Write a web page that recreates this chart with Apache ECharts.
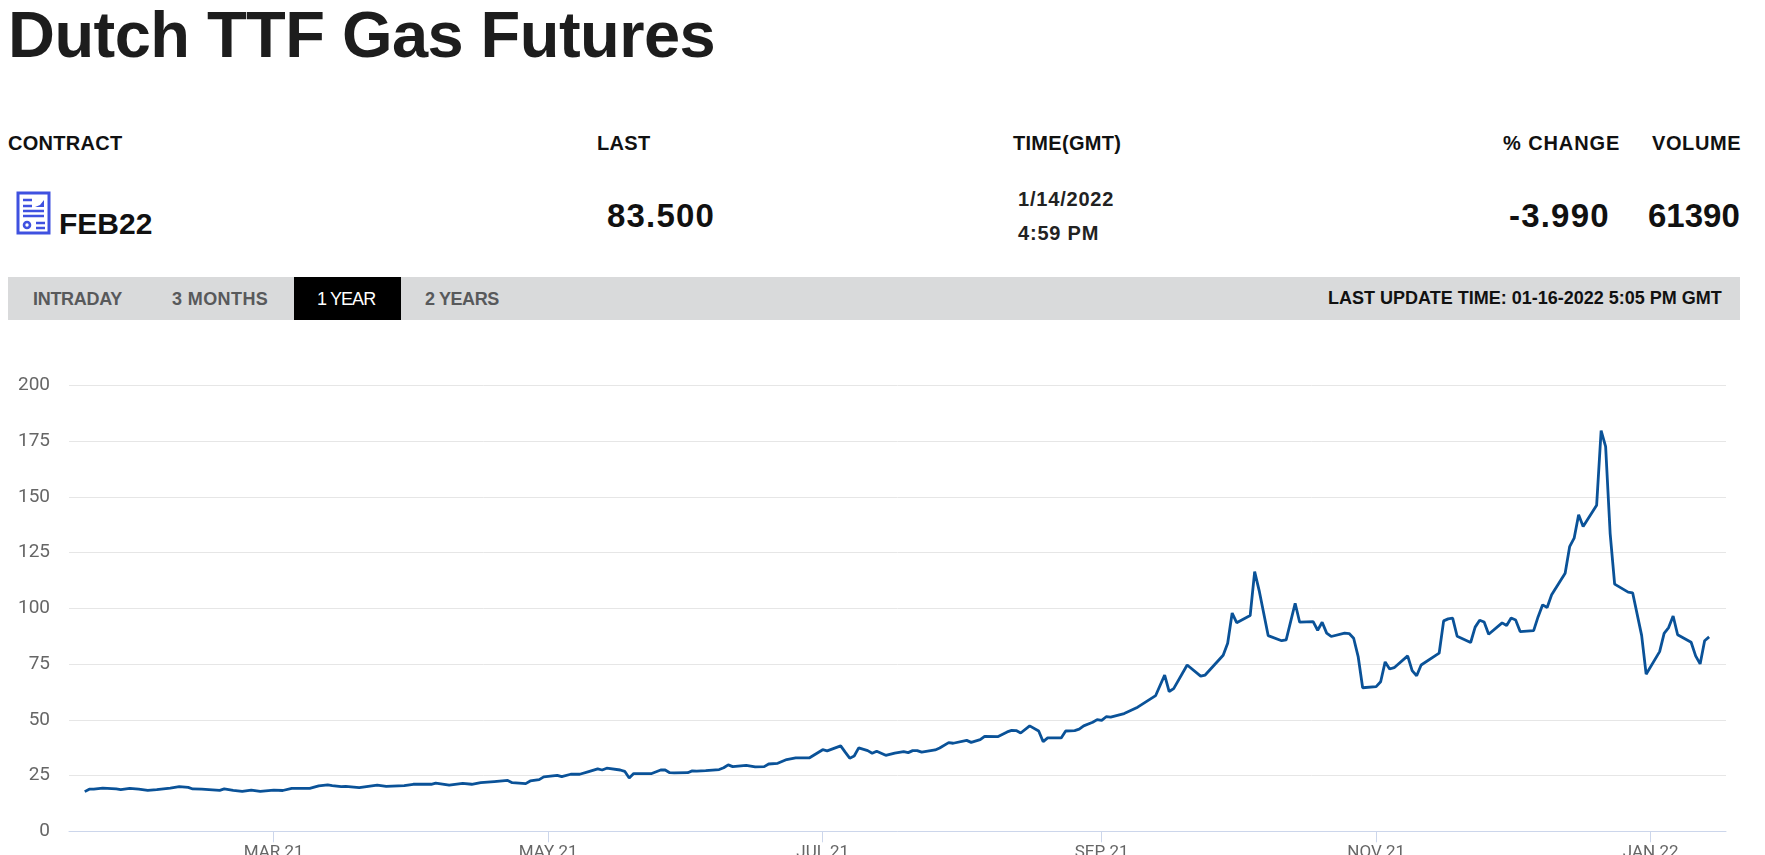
<!DOCTYPE html>
<html>
<head>
<meta charset="utf-8">
<title>Dutch TTF Gas Futures</title>
<script src="https://cdn.jsdelivr.net/npm/echarts@6/dist/echarts.min.js"></script>
<style>
    html, body { margin: 0; padding: 0; width: 1765px; height: 855px; overflow: hidden; background: #fff; }
    body { position: relative; font-family: "Liberation Sans", Arial, sans-serif; font-weight: 700; color: #111; }
    .t { position: absolute; line-height: 1; white-space: nowrap; }
    h1 { position: absolute; left: 8px; top: 2px; margin: 0; font-size: 65px; line-height: 1; letter-spacing: -0.55px; color: #1d1d1d; }
    .head { top: 133px; font-size: 20px; letter-spacing: 0.3px; }
    .big { top: 199px; font-size: 33px; letter-spacing: 1.2px; }
    .when { font-size: 20px; letter-spacing: 0.8px; color: #222; }
    #bar { position: absolute; left: 8px; top: 277px; width: 1732px; height: 43px; background: #d9dadb; }
    #active { position: absolute; left: 294px; top: 277px; width: 107px; height: 43px; background: #000; }
    .tab { top: 290px; font-size: 18px; color: #58595b; }
    #chart { position: absolute; left: 0; top: 300px; width: 1765px; height: 600px; }
</style>
</head>
<body>
<div id="chart"></div>

<h1>Dutch TTF Gas Futures</h1>
<span class="t head" style="left:8px">CONTRACT</span>
<span class="t head" style="left:597px">LAST</span>
<span class="t head" style="left:1013px">TIME(GMT)</span>
<span class="t head" style="left:1503px;letter-spacing:0.9px">% CHANGE</span>
<span class="t head" style="left:1652px;letter-spacing:0.6px">VOLUME</span>

<svg style="position:absolute;left:16px;top:191px" width="36" height="44" viewBox="0 0 36 44">
    <rect x="2" y="2" width="31" height="40" fill="#fff" stroke="#3f51e0" stroke-width="3"/>
    <path d="M7 9h9M7 15h9M7 20h21M7 25h21M20 32h9M20 37h9" stroke="#3f51e0" stroke-width="2.4"/>
    <path d="M19 16l5-2 4-5v7z" fill="#3f51e0"/>
    <circle cx="11" cy="34" r="3" fill="none" stroke="#3f51e0" stroke-width="2.6"/>
</svg>
<span class="t" style="left:59px;top:209px;font-size:30px">FEB22</span>
<span class="t big" style="left:607px">83.500</span>
<span class="t when" style="left:1018px;top:189px">1/14/2022</span>
<span class="t when" style="left:1018px;top:223px">4:59 PM</span>
<span class="t big" style="left:1509px">-3.990</span>
<span class="t big" style="left:1648px;letter-spacing:0">61390</span>

<div id="bar"></div>
<div id="active"></div>
<span class="t tab" style="left:33px;letter-spacing:-0.3px">INTRADAY</span>
<span class="t tab" style="left:172px;letter-spacing:0.4px">3 MONTHS</span>
<span class="t tab" style="left:317px;color:#fff;font-weight:400;letter-spacing:-0.9px">1 YEAR</span>
<span class="t tab" style="left:425px;letter-spacing:-0.4px">2 YEARS</span>
<span class="t" style="left:1328px;top:289px;font-size:18px">LAST UPDATE TIME: 01-16-2022 5:05 PM GMT</span>

<script>
// Daily settlement (only the dates where the line visibly bends)
const dates = [
    '2021-01-18', '2021-01-19', '2021-01-20', '2021-01-22', '2021-01-25', '2021-01-26', '2021-01-28', '2021-01-30',
    '2021-02-01', '2021-02-03', '2021-02-06', '2021-02-08', '2021-02-10', '2021-02-11', '2021-02-13', '2021-02-17', '2021-02-18', '2021-02-20', '2021-02-22', '2021-02-24', '2021-02-26',
    '2021-03-01', '2021-03-03', '2021-03-05', '2021-03-09', '2021-03-11', '2021-03-13', '2021-03-14', '2021-03-16', '2021-03-17', '2021-03-20', '2021-03-22', '2021-03-24', '2021-03-26', '2021-03-30',
    '2021-04-01', '2021-04-05', '2021-04-06', '2021-04-09', '2021-04-12', '2021-04-14', '2021-04-16', '2021-04-19', '2021-04-22', '2021-04-23', '2021-04-26', '2021-04-27', '2021-04-29', '2021-04-30',
    '2021-05-03', '2021-05-04', '2021-05-06', '2021-05-08', '2021-05-10', '2021-05-12', '2021-05-13', '2021-05-14', '2021-05-17', '2021-05-18', '2021-05-19', '2021-05-20', '2021-05-24', '2021-05-26', '2021-05-27', '2021-05-28', '2021-05-29',
    '2021-06-01', '2021-06-02', '2021-06-03', '2021-06-05', '2021-06-08', '2021-06-09', '2021-06-10', '2021-06-11', '2021-06-14', '2021-06-16', '2021-06-18', '2021-06-19', '2021-06-21', '2021-06-23', '2021-06-25', '2021-06-28',
    '2021-07-01', '2021-07-02', '2021-07-05', '2021-07-06', '2021-07-07', '2021-07-08', '2021-07-09', '2021-07-11', '2021-07-12', '2021-07-13', '2021-07-15', '2021-07-17', '2021-07-19', '2021-07-20', '2021-07-21', '2021-07-22', '2021-07-23', '2021-07-26', '2021-07-27', '2021-07-29', '2021-07-30',
    '2021-08-02', '2021-08-03', '2021-08-05', '2021-08-06', '2021-08-09', '2021-08-11', '2021-08-12', '2021-08-13', '2021-08-14', '2021-08-16', '2021-08-18', '2021-08-19', '2021-08-20', '2021-08-23', '2021-08-24', '2021-08-26', '2021-08-27', '2021-08-28', '2021-08-30', '2021-08-31',
    '2021-09-01', '2021-09-02', '2021-09-03', '2021-09-06', '2021-09-09', '2021-09-13', '2021-09-15', '2021-09-16', '2021-09-17', '2021-09-20', '2021-09-23', '2021-09-24', '2021-09-28', '2021-09-29', '2021-09-30',
    '2021-10-01', '2021-10-04', '2021-10-05', '2021-10-06', '2021-10-08', '2021-10-11', '2021-10-12', '2021-10-14', '2021-10-15', '2021-10-18', '2021-10-19', '2021-10-20', '2021-10-21', '2021-10-22', '2021-10-25', '2021-10-26', '2021-10-27', '2021-10-28', '2021-10-29',
    '2021-11-01', '2021-11-02', '2021-11-03', '2021-11-04', '2021-11-05', '2021-11-08', '2021-11-09', '2021-11-10', '2021-11-11', '2021-11-15', '2021-11-16', '2021-11-17', '2021-11-18', '2021-11-19', '2021-11-22', '2021-11-23', '2021-11-24', '2021-11-25', '2021-11-26', '2021-11-29', '2021-11-30',
    '2021-12-01', '2021-12-02', '2021-12-03', '2021-12-06', '2021-12-07', '2021-12-08', '2021-12-09', '2021-12-10', '2021-12-13', '2021-12-14', '2021-12-15', '2021-12-16', '2021-12-17', '2021-12-20', '2021-12-21', '2021-12-22', '2021-12-23', '2021-12-24', '2021-12-27', '2021-12-28', '2021-12-30', '2021-12-31',
    '2022-01-03', '2022-01-04', '2022-01-05', '2022-01-06', '2022-01-07', '2022-01-10', '2022-01-11', '2022-01-12', '2022-01-13', '2022-01-14'
];
const prices = [
    17.8, 18.9, 18.9, 19.4, 19.0, 18.7, 19.3, 18.9,
    18.4, 18.7, 19.4, 20.0, 19.7, 19.0, 18.9, 18.4, 19.0, 18.4, 17.9, 18.5, 17.9,
    18.5, 18.3, 19.3, 19.3, 20.4, 20.8, 20.5, 20.0, 20.2, 19.6, 20.2, 20.7, 20.2, 20.5,
    21.1, 21.1, 21.6, 20.7, 21.5, 21.1, 21.8, 22.3, 22.8, 21.8, 21.4, 22.6, 23.2, 24.4,
    25.1, 24.5, 25.6, 25.6, 26.8, 28.0, 27.5, 28.3, 27.5, 26.9, 23.9, 25.9, 25.9, 27.5, 27.5, 26.3, 26.2,
    26.3, 27.1, 27.0, 27.2, 27.7, 28.5, 29.8, 29.0, 29.6, 28.9, 29.0, 30.2, 30.5, 32.2, 32.9, 32.9,
    36.6, 36.1, 38.3, 35.5, 32.8, 33.8, 37.4, 36.2, 35.0, 35.9, 34.1, 35.1, 35.7, 35.3, 36.2, 36.2, 35.5, 36.5, 37.4, 39.8, 39.5,
    40.8, 39.9, 41.1, 42.6, 42.5, 44.6, 45.3, 45.2, 44.1, 47.3, 45.0, 40.2, 41.9, 41.9, 45.0, 45.2, 45.8, 47.3, 48.9, 50.1,
    49.8, 51.4, 51.2, 52.8, 55.7, 60.9, 70.1, 62.7, 64.0, 74.6, 69.6, 70.1, 79.0, 84.4, 97.9,
    93.6, 96.8, 116.5, 108.0, 87.8, 85.5, 85.9, 102.3, 93.8, 94.1, 90.2, 93.8, 88.9, 87.4, 88.9, 88.7, 86.6, 78.4, 64.4,
    64.9, 67.1, 76.0, 72.8, 73.4, 78.7, 72.1, 69.8, 74.6, 79.9, 94.4, 95.3, 95.6, 87.5, 84.7, 91.6, 94.7, 93.9, 88.4, 93.5, 92.3,
    95.7, 94.8, 89.6, 90.0, 96.3, 101.6, 100.4, 106.1, 115.8, 127.7, 131.5, 142.0, 136.7, 146.3, 179.8, 172.6, 133.7, 110.9, 107.3, 107.0, 87.9, 70.5,
    80.6, 88.8, 91.4, 96.6, 88.2, 84.8, 78.7, 75.1, 85.5, 87.2
];
const tickDates = ['2021-03-01', '2021-05-01', '2021-07-01', '2021-09-01', '2021-11-01', '2022-01-01'];
const tickLabels = ['MAR 21', 'MAY 21', 'JUL 21', 'SEP 21', 'NOV 21', 'JAN 22'];

const toTime = d => new Date(d + 'T00:00:00Z').getTime();
const tickTimes = tickDates.map(toTime);

// value axis in ms: the time axis does not take customValues with a label formatter
const chart = echarts.init(document.getElementById('chart'));
chart.setOption({
    animation: false,
    grid: { left: 69, top: 85.5, width: 1657, height: 445.8 },
    xAxis: {
        type: 'value',
        min: toTime('2021-01-14') + 12 * 3600e3,
        max: toTime('2022-01-18') - 6 * 3600e3,
        axisLine: { lineStyle: { color: '#ccd6eb', width: 1 } },
        axisTick: { show: true, length: 11, lineStyle: { color: '#ccd6eb' }, customValues: tickTimes },
        axisLabel: {
            color: '#666',
            fontFamily: 'Roboto',
            fontSize: 17,
            margin: 13,
            customValues: tickTimes,
            formatter: value => tickLabels[tickTimes.indexOf(value)]
        },
        splitLine: { show: false }
    },
    yAxis: {
        type: 'value',
        min: 0,
        max: 200,
        interval: 25,
        axisLine: { show: false },
        axisTick: { show: false },
        axisLabel: { color: '#666', fontFamily: 'Roboto', fontSize: 19, margin: 19 },
        splitLine: { lineStyle: { color: '#e6e6e6' } }
    },
    series: [{
        type: 'line',
        data: dates.map((d, i) => [toTime(d), prices[i]]),
        symbol: 'none',
        lineStyle: { width: 2.8, color: '#0a5298' }
    }]
});
</script>
</body>
</html>
